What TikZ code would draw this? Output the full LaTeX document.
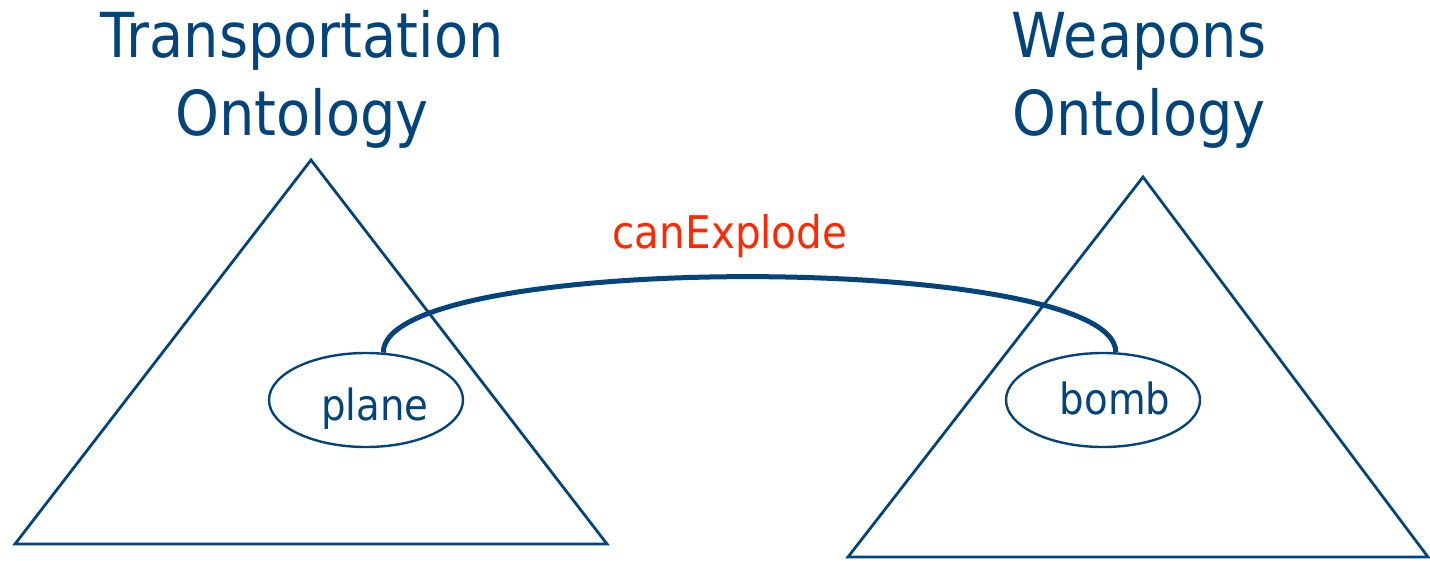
\documentclass[tikz,border=0pt]{standalone}
\usepackage{fontspec}
\setmainfont{DejaVu Sans}[FakeStretch=0.9]
\usetikzlibrary{shapes.geometric}
\definecolor{ontoblue}{RGB}{4,68,124}
\definecolor{relred}{RGB}{255,40,0}
\tikzset{
  title/.style={text=ontoblue,font=\fontsize{62}{78}\selectfont,align=center,anchor=base,inner sep=0pt},
  term/.style={text=ontoblue,font=\fontsize{43}{50}\selectfont,anchor=base,inner sep=0pt},
  termset/.style={draw=ontoblue,line width=2.4pt,ellipse,minimum width=194pt,minimum height=94pt,inner sep=0pt},
  onto/.style={draw=ontoblue,line width=2.8pt,line join=miter}
}
\begin{document}
\begin{tikzpicture}[x=1pt,y=-1pt]
\useasboundingbox (0,0) rectangle (1430,560);
% the two ontologies
\draw[onto](311,160)--(15,544)--(607,544)--cycle;
\draw[onto](1143,177)--(848,557)--(1428,557)--cycle;
\node[title] (transp) at (302,135){Transportation\\Ontology};
\node[title] (weap) at (1139,135){Weapons\\Ontology};

\node[termset] (planeset) at (366,400){};
\node[termset] (bombset) at (1103,400){};
\node[term] (plane) at (375,420){plane};
\node[term] (bomb) at (1115,414){bomb};

% relation
\draw[draw=ontoblue,line width=5pt](planeset.70) .. controls +(0,-102) and +(0,-100) .. (bombset.75);
\node[text=relred,font=\fontsize{45}{50}\selectfont,anchor=base,inner sep=0pt] (rel) at (730,248){canExplode};
\end{tikzpicture}
\end{document}
